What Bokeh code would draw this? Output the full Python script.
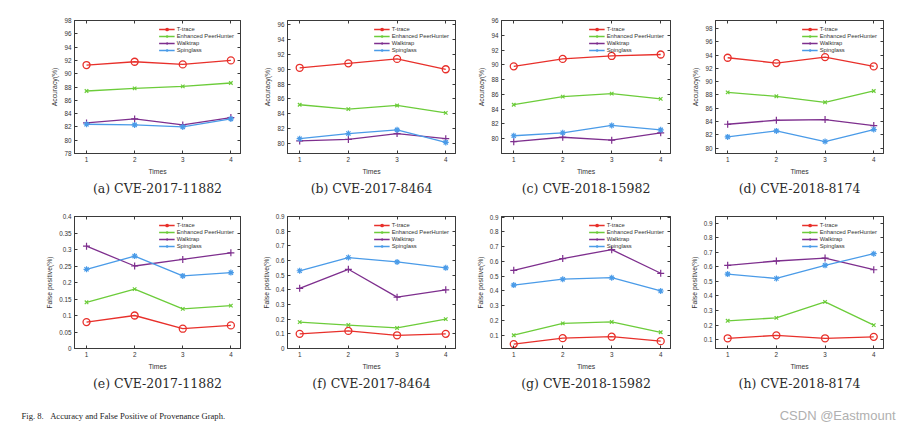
from bokeh.plotting import figure
from bokeh.layouts import column, row
from bokeh.models import Range1d, FixedTicker, CustomJSTickFormatter, Title, Label, LinearAxis
from bokeh.embed import file_html
from bokeh.resources import INLINE

times = [1, 2, 3, 4]
series_names = ["T-trace", "Enhanced PeerHunter", "Walktrap", "Spinglass"]

# Accuracy (%) per panel: [T-trace, Enhanced PeerHunter, Walktrap, Spinglass]
acc_2017_11882 = [[91.3, 91.8, 91.4, 92.0], [87.4, 87.8, 88.1, 88.6], [82.6, 83.2, 82.3, 83.4], [82.4, 82.3, 82.0, 83.2]]
acc_2017_8464 = [[90.2, 90.8, 91.4, 90.0], [85.2, 84.6, 85.1, 84.1], [80.3, 80.5, 81.3, 80.6], [80.6, 81.3, 81.8, 80.1]]
acc_2018_15982 = [[89.8, 90.8, 91.2, 91.4], [84.6, 85.7, 86.1, 85.4], [79.6, 80.2, 79.8, 80.8], [80.4, 80.8, 81.8, 81.2]]
acc_2018_8174 = [[93.6, 92.8, 93.7, 92.3], [88.4, 87.8, 86.9, 88.6], [83.6, 84.2, 84.3, 83.4], [81.7, 82.6, 81.0, 82.8]]

# False positive (%) per panel
fp_2017_11882 = [[0.08, 0.10, 0.06, 0.07], [0.14, 0.18, 0.12, 0.13], [0.31, 0.25, 0.27, 0.29], [0.24, 0.28, 0.22, 0.23]]
fp_2017_8464 = [[0.10, 0.12, 0.09, 0.10], [0.18, 0.16, 0.14, 0.20], [0.41, 0.54, 0.35, 0.40], [0.53, 0.62, 0.59, 0.55]]
fp_2018_15982 = [[0.04, 0.08, 0.09, 0.06], [0.10, 0.18, 0.19, 0.12], [0.54, 0.62, 0.68, 0.52], [0.44, 0.48, 0.49, 0.40]]
fp_2018_8174 = [[0.11, 0.13, 0.11, 0.12], [0.23, 0.25, 0.36, 0.20], [0.61, 0.64, 0.66, 0.58], [0.55, 0.52, 0.61, 0.69]]

captions_top = ["(a) CVE-2017-11882", "(b) CVE-2017-8464", "(c) CVE-2018-15982", "(d) CVE-2018-8174"]
captions_bottom = ["(e) CVE-2017-11882", "(f) CVE-2017-8464", "(g) CVE-2018-15982", "(h) CVE-2018-8174"]

acc_ranges = [(78, 98), (78.6, 96.6), (78, 96), (79.2, 99.2)]
acc_ticks = [list(range(78, 99, 2)), list(range(80, 97, 2)), list(range(80, 97, 2)), list(range(80, 99, 2))]
fp_ranges = [(0, 0.4), (0, 0.9), (0.01, 0.905), (0.04, 0.945)]
fp_ticks = [[0, 0.05, 0.1, 0.15, 0.2, 0.25, 0.3, 0.35, 0.4],
            [0, 0.1, 0.2, 0.3, 0.4, 0.5, 0.6, 0.7, 0.8, 0.9],
            [0.1, 0.2, 0.3, 0.4, 0.5, 0.6, 0.7, 0.8, 0.9],
            [0.1, 0.2, 0.3, 0.4, 0.5, 0.6, 0.7, 0.8, 0.9]]

colors = ["#e8302b", "#6ccc3a", "#7e2f8e", "#4a9be8"]
markers = ["circle", "x", "cross", "asterisk"]
msizes = [7, 5, 7, 6]

SANS = "Liberation Sans"
AX = "#3a3a3a"

# horizontal geometry per column: (left border, frame width, right border)
cols = [(74, 166, 3), (44, 168, 2), (44, 169, 1), (44, 168, 17)]


def box_axis(p, ticks, where):
    # tick marks only (MATLAB "box on"): labels are not drawn
    ax = LinearAxis(ticker=FixedTicker(ticks=ticks), axis_line_color=AX,
                    major_tick_line_color=AX, major_tick_in=3, major_tick_out=0,
                    minor_tick_line_color=None, major_label_text_color=None,
                    major_label_text_font_size="1px", major_label_standoff=0,
                    axis_label=None)
    p.add_layout(ax, where)


def make_panel(vals, yr, yticks, ylabel, caption, col, top, fh, bottom):
    left, fw, right = col
    p = figure(frame_width=fw, frame_height=fh, min_border_left=left, min_border_right=right,
               min_border_top=top, min_border_bottom=bottom,
               x_range=Range1d(0.75, 4.2), y_range=Range1d(*yr),
               output_backend="svg", toolbar_location=None,
               background_fill_color="white", border_fill_color="white")
    p.xgrid.visible = False
    p.ygrid.visible = False
    p.outline_line_color = AX
    p.outline_line_width = 1
    for i, name in enumerate(series_names):
        p.line(times, vals[i], line_color=colors[i], line_width=1.3, legend_label=name)
        if markers[i] == "circle":
            p.scatter(times, vals[i], marker="circle", size=msizes[i], fill_color=None,
                      line_color=colors[i], line_width=1.3, legend_label=name)
        else:
            p.scatter(times, vals[i], marker=markers[i], size=msizes[i], fill_color=colors[i],
                      line_color=colors[i], line_width=1.2, legend_label=name)
    for ax in (p.xaxis[0], p.yaxis[0]):
        ax.axis_line_color = AX
        ax.major_tick_line_color = AX
        ax.major_tick_in = 3
        ax.major_tick_out = 0
        ax.minor_tick_line_color = None
        ax.major_label_text_font = SANS
        ax.major_label_text_font_size = "6.3px"
        ax.major_label_text_color = "#333"
        ax.axis_label_text_font = SANS
        ax.axis_label_text_font_size = "6.8px"
        ax.axis_label_text_font_style = "normal"
        ax.axis_label_text_color = "#333"
        ax.major_label_standoff = 3
        ax.axis_label_standoff = 3
    p.xaxis[0].ticker = FixedTicker(ticks=times)
    p.xaxis[0].axis_label = "Times"
    p.yaxis[0].ticker = FixedTicker(ticks=yticks)
    p.yaxis[0].axis_label = ylabel
    p.yaxis[0].formatter = CustomJSTickFormatter(code="return String(Math.round(tick*1000)/1000);")
    box_axis(p, yticks, "right")
    box_axis(p, times, "above")
    lg = p.legend[0]
    lg.location = "top_right"
    lg.label_text_font = SANS
    lg.label_text_font_size = "5.8px"
    lg.label_text_color = "#333"
    lg.glyph_height = 6
    lg.glyph_width = 16
    lg.label_height = 6
    lg.label_standoff = 2
    lg.spacing = 1
    lg.padding = 2
    lg.margin = 4
    lg.border_line_alpha = 0
    lg.background_fill_alpha = 0
    t = Title(text=caption, align="center", text_font="DejaVu Serif", text_font_size="12.5px",
              text_font_style="normal", text_color="#2a2a2a", standoff=3)
    p.add_layout(t, "below")
    return p


top_vals = [acc_2017_11882, acc_2017_8464, acc_2018_15982, acc_2018_8174]
bot_vals = [fp_2017_11882, fp_2017_8464, fp_2018_15982, fp_2018_8174]

top_row = [make_panel(top_vals[k], acc_ranges[k], acc_ticks[k], "Accuracy(%)", captions_top[k],
                      cols[k], 20, 133, 47) for k in range(4)]
bot_row = [make_panel(bot_vals[k], fp_ranges[k], fp_ticks[k], "False positive(%)", captions_bottom[k],
                      cols[k], 16, 132, 52) for k in range(4)]

cap = figure(width=900, height=37, x_range=Range1d(0, 900), y_range=Range1d(0, 37),
             output_backend="svg", toolbar_location=None, min_border=0,
             background_fill_color="white", border_fill_color="white")
cap.axis.visible = False
cap.grid.visible = False
cap.outline_line_color = None
cap.add_layout(Label(x=21, y=22, text="Fig. 8.\u00a0\u00a0\u00a0Accuracy and False Positive of Provenance Graph.",
                     text_font="Liberation Serif", text_font_size="8.6px", text_color="#222",
                     text_baseline="middle"))
cap.add_layout(Label(x=895, y=22, text="CSDN @Eastmount", text_font="Liberation Sans",
                     text_font_size="13px", text_color="#b0b0b0", text_align="right",
                     text_baseline="middle"))

layout = column(row(*top_row), row(*bot_row), cap)
open("out.html", "w").write(file_html(layout, INLINE))
